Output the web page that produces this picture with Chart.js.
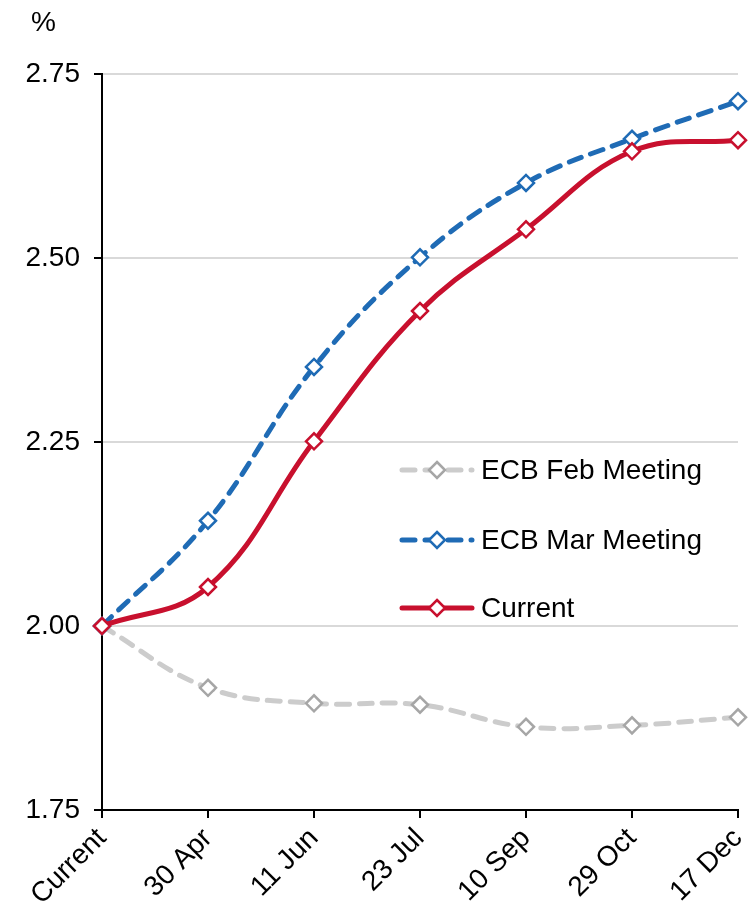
<!DOCTYPE html>
<html>
<head>
<meta charset="utf-8">
<script src="https://cdn.jsdelivr.net/npm/chart.js@4.4.1/dist/chart.umd.min.js"></script>
<style>
  html, body { margin: 0; padding: 0; background: #fff; }
  #wrap { position: relative; width: 753px; height: 909px; }
</style>
</head>
<body>
<div id="wrap"><canvas id="rateChart" width="753" height="909"></canvas></div>
<script>
// meeting dates on the x axis
const meetings = ['Current', '30 Apr', '11 Jun', '23 Jul', '10 Sep', '29 Oct', '17 Dec'];

// implied rate, %
const febMeeting = [2.00, 1.916, 1.895, 1.893, 1.863, 1.865, 1.876];
const marMeeting = [2.00, 2.143, 2.352, 2.501, 2.602, 2.662, 2.713];
const current    = [2.00, 2.053, 2.251, 2.428, 2.539, 2.645, 2.660];

const yTicks = [1.75, 2.00, 2.25, 2.50, 2.75];

const FONT = "'Liberation Sans', Arial, sans-serif";
const FONT_SIZE = 28;
const RED = '#C8102E';
const BLUE = '#1F6BB5';
const GREY_LINE = '#CCCCCC';
const GREY_MARK = '#A6A6A6';

// legend sits inside the plot, on the right
const legendPlugin = {
    id: 'insideLegend',
    afterDraw(chart) {
        const ctx = chart.ctx;
        const rows = [470, 540, 608];
        chart.data.datasets.forEach((ds, i) => {
            const y = rows[i];
            ctx.save();
            ctx.strokeStyle = ds.borderColor;
            ctx.lineWidth = ds.borderWidth;
            ctx.lineCap = 'round';
            ctx.setLineDash(ds.borderDash || []);
            ctx.beginPath();
            ctx.moveTo(402, y);
            ctx.lineTo(472, y);
            ctx.stroke();
            ctx.setLineDash([]);
            // diamond marker
            const r = 8;
            ctx.fillStyle = '#fff';
            ctx.strokeStyle = ds.pointBorderColor;
            ctx.lineWidth = ds.pointBorderWidth;
            ctx.beginPath();
            ctx.moveTo(437, y - r);
            ctx.lineTo(437 + r, y);
            ctx.lineTo(437, y + r);
            ctx.lineTo(437 - r, y);
            ctx.closePath();
            ctx.fill();
            ctx.stroke();
            ctx.fillStyle = '#000';
            ctx.font = FONT_SIZE + 'px ' + FONT;
            ctx.textBaseline = 'middle';
            ctx.textAlign = 'left';
            ctx.fillText(ds.label, 481, y + 1);
            ctx.restore();
        });
        // unit label
        ctx.save();
        ctx.fillStyle = '#000';
        ctx.font = FONT_SIZE + 'px ' + FONT;
        ctx.textBaseline = 'middle';
        ctx.textAlign = 'left';
        ctx.fillText('%', 31, 23);
        ctx.restore();
    }
};

function lineSet(label, data, color, markColor, dash, order) {
    return {
        label: label,
        data: data,
        order: order,
        borderColor: color,
        borderWidth: 5,
        borderDash: dash,
        borderCapStyle: 'round',
        tension: 0.4,
        pointStyle: 'rectRot',
        pointRadius: 8,
        pointBackgroundColor: '#fff',
        pointBorderColor: markColor,
        pointBorderWidth: 2.5,
        fill: false
    };
}

new Chart(document.getElementById('rateChart').getContext('2d'), {
    type: 'line',
    data: {
        labels: meetings,
        datasets: [
            lineSet('ECB Feb Meeting', febMeeting, GREY_LINE, GREY_MARK, [13, 10], 3),
            lineSet('ECB Mar Meeting', marMeeting, BLUE, BLUE, [13, 10], 2),
            lineSet('Current', current, RED, RED, [], 1)
        ]
    },
    options: {
        responsive: false,
        animation: false,
        layout: { padding: { top: 74, right: 15, left: 0, bottom: 0 } },
        plugins: {
            legend: { display: false },
            tooltip: { enabled: false }
        },
        scales: {
            x: {
                offset: false,
                grid: {
                    display: true,
                    drawOnChartArea: false,
                    drawTicks: true,
                    tickLength: 8,
                    color: '#000',
                    lineWidth: 2
                },
                border: { color: '#000', width: 2 },
                ticks: {
                    color: '#000',
                    font: { family: FONT, size: FONT_SIZE },
                    maxRotation: 45,
                    minRotation: 45,
                    autoSkip: false,
                    padding: 4
                },
                afterFit(axis) {
                    axis.height = 99;
                    axis.paddingRight = 0;
                    axis.paddingLeft = 0;
                }
            },
            y: {
                min: 1.75,
                max: 2.75,
                afterBuildTicks(axis) {
                    axis.ticks = yTicks.map(v => ({ value: v }));
                },
                grid: {
                    color: '#D9D9D9',
                    lineWidth: 2,
                    tickLength: 8,
                    tickColor: '#000',
                    drawTicks: true
                },
                border: { color: '#000', width: 2 },
                ticks: {
                    color: '#000',
                    font: { family: FONT, size: FONT_SIZE },
                    padding: 14,
                    callback: v => v.toFixed(2)
                },
                afterFit(axis) { axis.width = 102; }
            }
        }
    },
    plugins: [legendPlugin]
});
</script>
</body>
</html>
